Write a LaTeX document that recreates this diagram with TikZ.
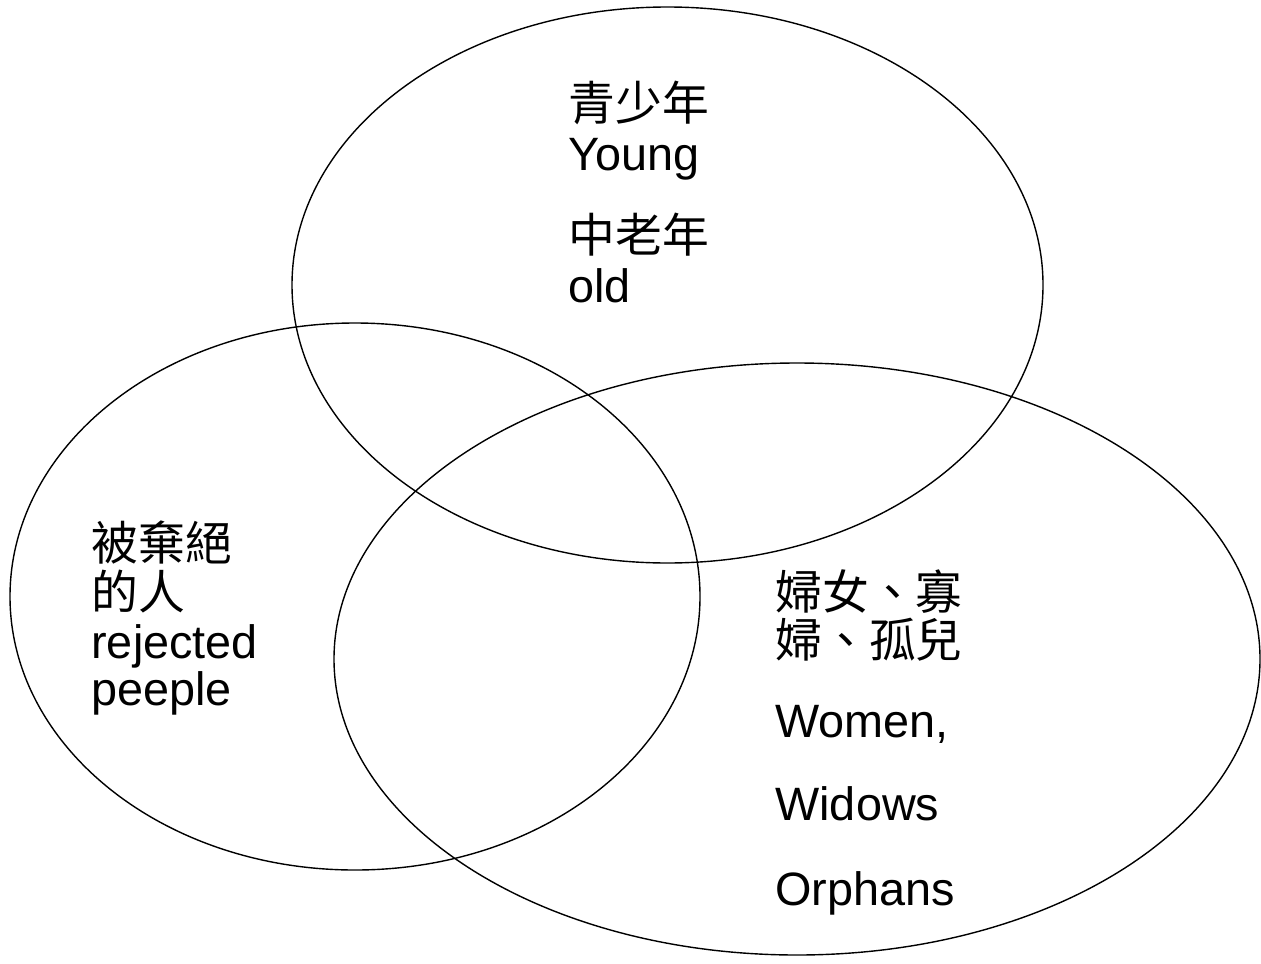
\documentclass[tikz,border=0pt]{standalone}
\usepackage{fontspec}
\setmainfont{Liberation Sans}
\newfontfamily\cjk{Noto Sans CJK TC}

\tikzset{
  set/.style={line width=0.7pt},
  lbl/.style={anchor=base west, inner sep=0pt, font=\fontsize{23.4}{28}\selectfont},
  zh/.style={lbl, font=\fontsize{23.4}{28}\selectfont\cjk}
}

\begin{document}
\begin{tikzpicture}[x=0.5pt,y=-0.5pt]
  \useasboundingbox (0,0) rectangle (1261,963);

  % the three sets
  \draw[set] (667.5,285) ellipse [x radius=187.75pt, y radius=139pt];
  \draw[set] (355,596.5) ellipse [x radius=172.5pt, y radius=136.75pt];
  \draw[set] (797,659) ellipse [x radius=231.5pt, y radius=148pt];

  % top set
  \node[zh]  (youngzh) at (568,120) {青少年};
  \node[lbl] (youngen) at (568,170) {Young};
  \node[zh]  (oldzh)   at (568,252) {中老年};
  \node[lbl] (olden)   at (568,302) {old};

  % left set
  \node[zh]  (rejzha) at (91,560) {被棄絕};
  \node[zh]  (rejzhb) at (91,609) {的人};
  \node[lbl] (rejena) at (91,658) {rejected};
  \node[lbl] (rejenb) at (91,705) {peeple};

  % right set
  \node[zh]  (womzha) at (775,609) {婦女、寡};
  \node[zh]  (womzhb) at (775,657) {婦、孤兒};
  \node[lbl] (women)  at (775,737) {Women,};
  \node[lbl] (widows) at (775,820) {Widows};
  \node[lbl] (orphan) at (775,905) {Orphans};
\end{tikzpicture}
\end{document}
